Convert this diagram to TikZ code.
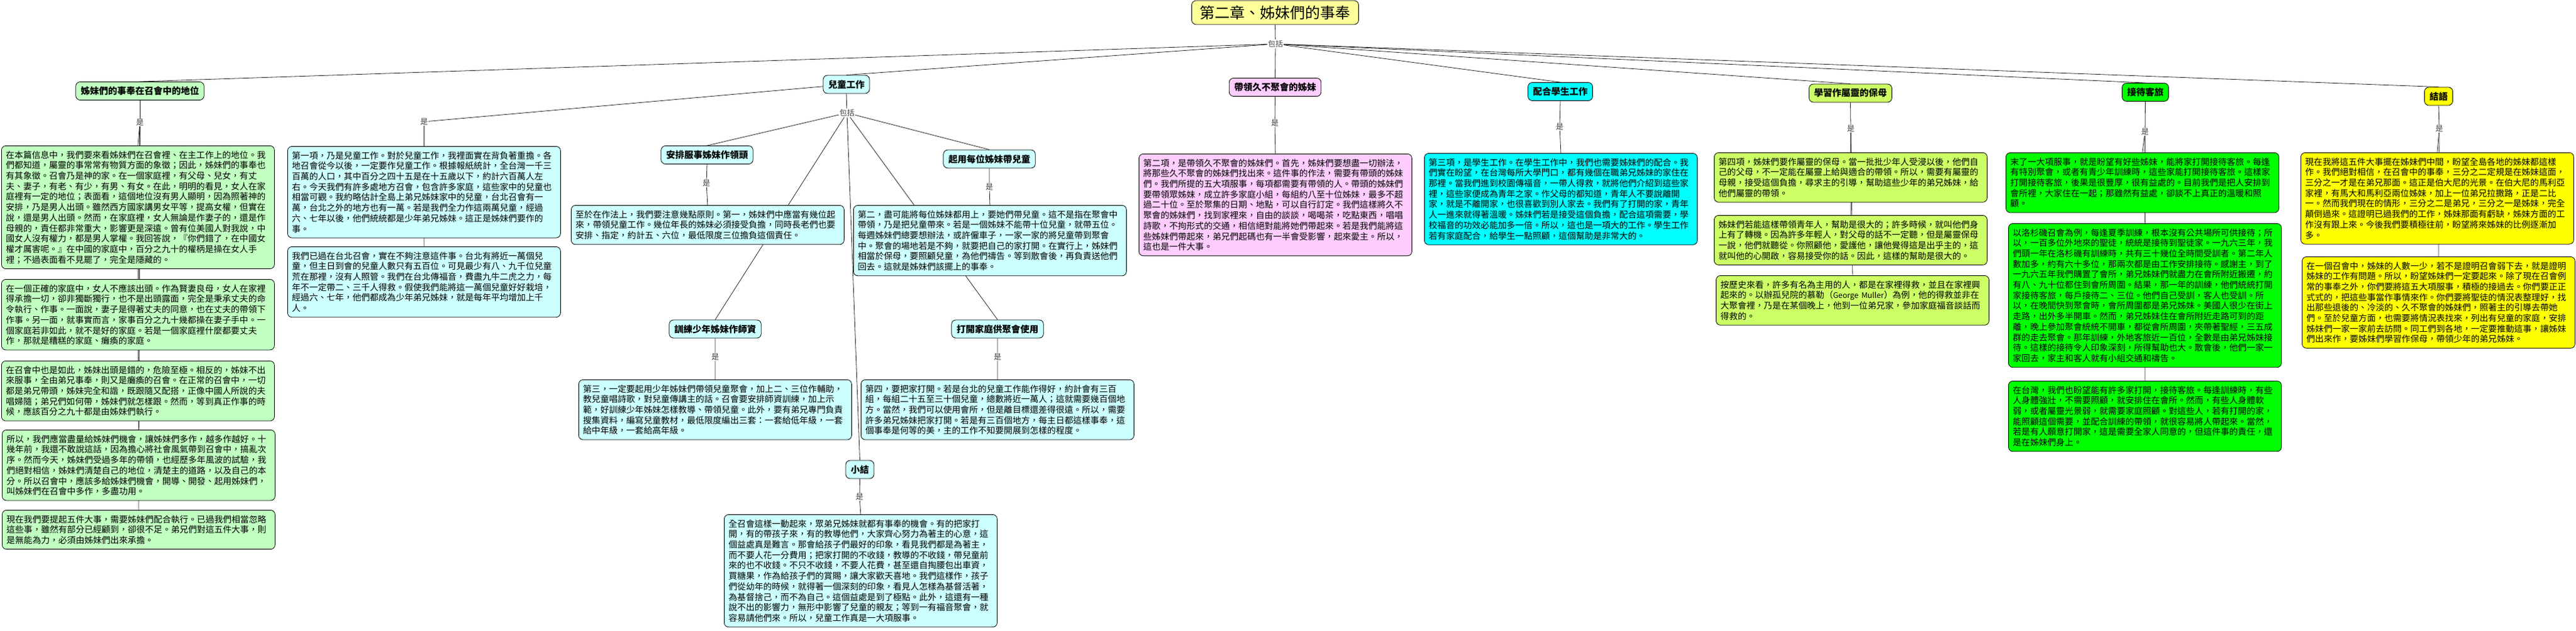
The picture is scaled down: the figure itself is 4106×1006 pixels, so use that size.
\documentclass[tikz,border=0pt]{standalone}
\usepackage{fontspec}
\usepackage{xcolor}
\usepackage{tikz}
\usetikzlibrary{backgrounds}
\newfontfamily\cjk{Noto Sans CJK TC}
\definecolor{rootyellow}{RGB}{255,255,153}
\definecolor{placegreen}{RGB}{192,255,192}
\definecolor{childcyan}{RGB}{204,255,255}
\definecolor{leadpink}{RGB}{255,204,255}
\definecolor{studentcyan}{RGB}{0,255,255}
\definecolor{nursegreen}{RGB}{204,255,102}
\definecolor{hostgreen}{RGB}{0,255,0}
\definecolor{closingyellow}{RGB}{255,255,0}

\begin{document}
\begin{tikzpicture}[x=1pt, y=-1pt,
    concept/.style={draw, rounded corners=7pt, line width=0.8pt, inner xsep=8pt, minimum height=29pt, font=\cjk\bfseries\fontsize{14.5}{17}\selectfont},
    detail/.style={draw, rounded corners=7pt, line width=0.8pt, anchor=north west, text width=421pt, inner xsep=7pt, inner ysep=8pt, align=left, font=\cjk\fontsize{13.8}{16.7}\selectfont},
    linkword/.style={fill=white, inner sep=1pt, text=black!75, font=\cjk\fontsize{12}{14}\selectfont},
    link/.style={draw=black!85, line width=0.8pt}
]
\useasboundingbox (0,0) rectangle (4106,1006);

\node[concept, fill=rootyellow, font=\cjk\fontsize{24}{28}\selectfont, inner xsep=13pt, minimum height=38pt] (root) at (2032.5,20) {第二章、姊妹們的事奉};

\node[concept, fill=placegreen] (place) at (223,145) {姊妹們的事奉在召會中的地位};
\node[concept, fill=childcyan] (child) at (1349,134.5) {兒童工作};
\node[concept, fill=leadpink] (lead) at (2032.5,139) {帶領久不聚會的姊妹};
\node[concept, fill=studentcyan] (student) at (2487,146) {配合學生工作};
\node[concept, fill=nursegreen] (nurse) at (2949.5,148.5) {學習作屬靈的保母};
\node[concept, fill=hostgreen] (host) at (3419.5,147) {接待客旅};
\node[concept, fill=closingyellow] (closing) at (3887,153.5) {結語};

\node[concept, fill=childcyan] (arrange) at (1127,247) {安排服事姊妹作領頭};
\node[concept, fill=childcyan] (train) at (1140,524.5) {訓練少年姊妹作師資};
\node[concept, fill=childcyan] (summary) at (1370.5,748.5) {小結};
\node[concept, fill=childcyan] (bring) at (1577,253.5) {起用每位姊妹帶兒童};
\node[concept, fill=childcyan] (openhome) at (1590,524.5) {打開家庭供聚會使用};

\node[linkword] (rootinc) at (2033,70) {包括};
\node[linkword] (childinc) at (1350,180) {包括};
\node[linkword] (placeis) at (223,195) {是};
\node[linkword] (childis) at (676,194) {是};
\node[linkword] (leadis) at (2032,196) {是};
\node[linkword] (studentis) at (2486,202) {是};
\node[linkword] (nurseis) at (2950,205) {是};
\node[linkword] (hostis) at (3419,210) {是};
\node[linkword] (closingis) at (3888,205) {是};
\node[linkword] (arrangeis) at (1126,292) {是};
\node[linkword] (trainis) at (1140,569) {是};
\node[linkword] (summaryis) at (1370,792) {是};
\node[linkword] (bringis) at (1577,298) {是};
\node[linkword] (openis) at (1590,569) {是};

\node[detail, fill=placegreen] (g1) at (2,232) {在本篇信息中，我們要來看姊妹們在召會裡、在主工作上的地位。我\\們都知道，屬靈的事常常有物質方面的象徵；因此，姊妹們的事奉也\\有其象徵。召會乃是神的家。在一個家庭裡，有父母、兒女，有丈\\夫、妻子，有老、有少，有男、有女。在此，明明的看見，女人在家\\庭裡有一定的地位；表面看，這個地位沒有男人顯明，因為照著神的\\安排，乃是男人出頭。雖然西方國家講男女平等，提高女權，但實在\\說，還是男人出頭。然而，在家庭裡，女人無論是作妻子的，還是作\\母親的，責任都非常重大，影響更是深遠。曾有位美國人對我說，中\\國女人沒有權力，都是男人掌權。我回答說，『你們錯了，在中國女\\權才厲害呢。』在中國的家庭中，百分之九十的權柄是操在女人手\\裡；不過表面看不見罷了，完全是隱藏的。};
\node[detail, fill=placegreen] (g2) at (2,445) {在一個正確的家庭中，女人不應該出頭。作為賢妻良母，女人在家裡\\得承擔一切，卻非獨斷獨行，也不是出頭露面，完全是秉承丈夫的命\\令執行、作事。一面說，妻子是得著丈夫的同意，也在丈夫的帶領下\\作事。另一面，就事實而言，家事百分之九十幾都操在妻子手中。一\\個家庭若非如此，就不是好的家庭。若是一個家庭裡什麼都要丈夫\\作，那就是糟糕的家庭、癱瘓的家庭。};
\node[detail, fill=placegreen] (g3) at (2,575) {在召會中也是如此，姊妹出頭是錯的，危險至極。相反的，姊妹不出\\來服事，全由弟兄事奉，則又是癱瘓的召會。在正常的召會中，一切\\都是弟兄帶頭，姊妹完全和諧，既跟隨又配搭，正像中國人所說的夫\\唱婦隨；弟兄們如何帶，姊妹們就怎樣跟。然而，等到真正作事的時\\候，應該百分之九十都是由姊妹們執行。};
\node[detail, fill=placegreen] (g4) at (3,685) {所以，我們應當盡量給姊妹們機會，讓姊妹們多作，越多作越好。十\\幾年前，我還不敢說這話，因為擔心將社會風氣帶到召會中，搞亂次\\序。然而今天，姊妹們受過多年的帶領，也經歷多年風波的試驗，我\\們絕對相信，姊妹們清楚自己的地位，清楚主的道路，以及自己的本\\分。所以召會中，應該多給姊妹們機會，開導、開發、起用姊妹們，\\叫姊妹們在召會中多作，多盡功用。};
\node[detail, fill=placegreen] (g5) at (3,813) {現在我們要提起五件大事，需要姊妹們配合執行。已過我們相當忽略\\這些事，雖然有部分已經顧到，卻很不足。弟兄們對這五件大事，則\\是無能為力，必須由姊妹們出來承擔。};

\node[detail, fill=childcyan] (c1) at (458,233) {第一項，乃是兒童工作。對於兒童工作，我裡面實在背負著重擔。各\\地召會從今以後，一定要作兒童工作。根據報紙統計，全台灣一千三\\百萬的人口，其中百分之四十五是在十五歲以下，約計六百萬人左\\右。今天我們有許多處地方召會，包含許多家庭，這些家中的兒童也\\相當可觀。我約略估計全島上弟兄姊妹家中的兒童，台北召會有一\\萬，台北之外的地方也有一萬。若是我們全力作這兩萬兒童，經過\\六、七年以後，他們統統都是少年弟兄姊妹。這正是姊妹們要作的\\事。};
\node[detail, fill=childcyan] (c2) at (458,393) {我們已過在台北召會，實在不夠注意這件事。台北有將近一萬個兒\\童，但主日到會的兒童人數只有五百位。可見最少有八、九千位兒童\\荒在那裡，沒有人照管。我們在台北傳福音，費盡九牛二虎之力，每\\年不一定帶二、三千人得救。假使我們能將這一萬個兒童好好栽培，\\經過六、七年，他們都成為少年弟兄姊妹，就是每年平均增加上千\\人。};
\node[detail, fill=childcyan] (a1) at (910,327) {至於在作法上，我們要注意幾點原則。第一，姊妹們中應當有幾位起\\來，帶領兒童工作。幾位年長的姊妹必須接受負擔，同時長老們也要\\安排、指定，約計五、六位，最低限度三位擔負這個責任。};
\node[detail, fill=childcyan] (t1) at (922,605) {第三，一定要起用少年姊妹們帶領兒童聚會，加上二、三位作輔助，\\教兒童唱詩歌，對兒童傳講主的話。召會要安排師資訓練，加上示\\範，好訓練少年姊妹怎樣教導、帶領兒童。此外，要有弟兄專門負責\\搜集資料，編寫兒童教材，最低限度編出三套：一套給低年級，一套\\給中年級，一套給高年級。};
\node[detail, fill=childcyan] (s1) at (1154,820) {全召會這樣一動起來，眾弟兄姊妹就都有事奉的機會。有的把家打\\開，有的帶孩子來，有的教導他們，大家齊心努力為著主的心意，這\\個益處真是難言。那會給孩子們最好的印象，看見我們都是為著主，\\而不要人花一分費用；把家打開的不收錢，教導的不收錢，帶兒童前\\來的也不收錢。不只不收錢，不要人花費，甚至還自掏腰包出車資，\\買糖果，作為給孩子們的賞賜，讓大家歡天喜地。我們這樣作，孩子\\們從幼年的時候，就得著一個深刻的印象，看見人怎樣為基督活著，\\為基督捨己，而不為自己。這個益處是到了極點。此外，這還有一種\\說不出的影響力，無形中影響了兒童的親友；等到一有福音聚會，就\\容易請他們來。所以，兒童工作真是一大項服事。};
\node[detail, fill=childcyan] (q1) at (1360,327) {第二，盡可能將每位姊妹都用上，要她們帶兒童。這不是指在聚會中\\帶領，乃是把兒童帶來。若是一個姊妹不能帶十位兒童，就帶五位。\\每週姊妹們總要想辦法，或許僱車子，一家一家的將兒童帶到聚會\\中。聚會的場地若是不夠，就要把自己的家打開。在實行上，姊妹們\\相當於保母，要照顧兒童，為他們禱告。等到散會後，再負責送他們\\回去。這就是姊妹們該擺上的事奉。};
\node[detail, fill=childcyan] (o1) at (1372,605) {第四，要把家打開。若是台北的兒童工作能作得好，約計會有三百\\組，每組二十五至三十個兒童，總數將近一萬人；這就需要幾百個地\\方。當然，我們可以使用會所，但是離目標還差得很遠。所以，需要\\許多弟兄姊妹把家打開。若是有三百個地方，每主日都這樣事奉，這\\個事奉是何等的美，主的工作不知要開展到怎樣的程度。};

\node[detail, fill=leadpink] (p1) at (1815,245) {第二項，是帶領久不聚會的姊妹們。首先，姊妹們要想盡一切辦法，\\將那些久不聚會的姊妹們找出來。這件事的作法，需要有帶頭的姊妹\\們。我們所提的五大項服事，每項都需要有帶領的人。帶頭的姊妹們\\要帶領眾姊妹，成立許多家庭小組，每組約八至十位姊妹，最多不超\\過二十位。至於聚集的日期、地點，可以自行訂定。我們這樣將久不\\聚會的姊妹們，找到家裡來，自由的談談，喝喝茶，吃點東西，唱唱\\詩歌，不拘形式的交通，相信絕對能將她們帶起來。若是我們能將這\\些姊妹們帶起來，弟兄們起碼也有一半會受影響，起來愛主。所以，\\這也是一件大事。};

\node[detail, fill=studentcyan] (r1) at (2270,244) {第三項，是學生工作。在學生工作中，我們也需要姊妹們的配合。我\\們實在盼望，在台灣每所大學門口，都有幾個在職弟兄姊妹的家住在\\那裡。當我們進到校園傳福音，一帶人得救，就將他們介紹到這些家\\裡，這些家便成為青年之家。作父母的都知道，青年人不要說離開\\家，就是不離開家，也很喜歡到別人家去。我們有了打開的家，青年\\人一進來就得著溫暖。姊妹們若是接受這個負擔，配合這項需要，學\\校福音的功效必能加多一倍。所以，這也是一項大的工作。學生工作\\若有家庭配合，給學生一點照顧，這個幫助是非常大的。};

\node[detail, fill=nursegreen] (m1) at (2732,243) {第四項，姊妹們要作屬靈的保母。當一批批少年人受浸以後，他們自\\己的父母，不一定能在屬靈上給與適合的帶領。所以，需要有屬靈的\\母親，接受這個負擔，尋求主的引導，幫助這些少年的弟兄姊妹，給\\他們屬靈的帶領。};
\node[detail, fill=nursegreen] (m2) at (2732,343) {姊妹們若能這樣帶領青年人，幫助是很大的；許多時候，就叫他們身\\上有了轉機。因為許多年輕人，對父母的話不一定聽，但是屬靈保母\\一說，他們就聽從。你照顧他，愛護他，讓他覺得這是出乎主的，這\\就叫他的心開啟，容易接受你的話。因此，這樣的幫助是很大的。};
\node[detail, fill=nursegreen] (m3) at (2735,439) {按歷史來看，許多有名為主用的人，都是在家裡得救，並且在家裡興\\起來的。以辦孤兒院的慕勒（{\fontsize{12.2}{16.7}\selectfont George~Muller}）為例，他的得救並非在\\大聚會裡，乃是在某個晚上，他到一位弟兄家，參加家庭福音談話而\\得救的。};

\node[detail, fill=hostgreen] (h1) at (3197,243) {末了一大項服事，就是盼望有好些姊妹，能將家打開接待客旅。每逢\\有特別聚會，或者有青少年訓練時，這些家能打開接待客旅。這樣家\\打開接待客旅，後果是很豐厚，很有益處的。目前我們是把人安排到\\會所裡，大家住在一起；那雖然有益處，卻談不上真正的溫暖和照\\顧。};
\node[detail, fill=hostgreen] (h2) at (3201,356) {以洛杉磯召會為例，每逢夏季訓練，根本沒有公共場所可供接待；所\\以，一百多位外地來的聖徒，統統是接待到聖徒家。一九六三年，我\\們頭一年在洛杉磯有訓練時，共有三十幾位全時間受訓者。第二年人\\數加多，約有六十多位，那兩次都是由工作安排接待。感謝主，到了\\一九六五年我們購置了會所，弟兄姊妹們就盡力在會所附近搬遷，約\\有八、九十位都住到會所周圍。結果，那一年的訓練，他們統統打開\\家接待客旅，每戶接待二、三位。他們自己受訓，客人也受訓。所\\以，在晚間快到聚會時，會所周圍都是弟兄姊妹。美國人很少在街上\\走路，出外多半開車。然而，弟兄姊妹住在會所附近走路可到的距\\離，晚上參加聚會統統不開車，都從會所周圍，夾帶著聖經，三五成\\群的走去聚會。那年訓練，外地客旅近一百位，全數是由弟兄姊妹接\\待。這樣的接待令人印象深刻，所得幫助也大。散會後，他們一家一\\家回去，家主和客人就有小組交通和禱告。};
\node[detail, fill=hostgreen] (h3) at (3201,607) {在台灣，我們也盼望能有許多家打開，接待客旅。每逢訓練時，有些\\人身體強壯，不需要照顧，就安排住在會所。然而，有些人身體軟\\弱，或者屬靈光景弱，就需要家庭照顧。對這些人，若有打開的家，\\能照顧這個需要，並配合訓練的帶領，就很容易將人帶起來。當然，\\若是有人願意打開家，這是需要全家人同意的，但這件事的責任，還\\是在姊妹們身上。};

\node[detail, fill=closingyellow] (e1) at (3667,243) {現在我將這五件大事擺在姊妹們中間，盼望全島各地的姊妹都這樣\\作。我們絕對相信，在召會中的事奉，三分之二定規是在姊妹這面，\\三分之一才是在弟兄那面。這正是伯大尼的光景。在伯大尼的馬利亞\\家裡，有馬大和馬利亞兩位姊妹，加上一位弟兄拉撒路，正是二比\\一。然而我們現在的情形，三分之二是弟兄，三分之一是姊妹，完全\\顛倒過來。這證明已過我們的工作，姊妹那面有虧缺，姊妹方面的工\\作沒有跟上來。今後我們要積極往前，盼望將來姊妹的比例逐漸加\\多。};
\node[detail, fill=closingyellow] (e2) at (3669,409) {在一個召會中，姊妹的人數一少，若不是證明召會弱下去，就是證明\\姊妹的工作有問題。所以，盼望姊妹們一定要起來。除了現在召會例\\常的事奉之外，你們要將這五大項服事，積極的接過去。你們要正正\\式式的，把這些事當作事情來作。你們要將聖徒的情況表整理好，找\\出那些退後的、冷淡的、久不聚會的姊妹們，照著主的引導去帶她\\們。至於兒童方面，也需要將情況表找來，列出有兒童的家庭，安排\\姊妹們一家一家前去訪問。同工們到各地，一定要推動這事，讓姊妹\\們出來作，要姊妹們學習作保母，帶領少年的弟兄姊妹。};

\begin{scope}[on background layer]
\draw[link] (root.south) -- (rootinc);
\foreach \t in {place,child,lead,student,nurse,host,closing}
    \draw[link] (rootinc) -- (\t.north);

\draw[link] (place.south) -- (placeis);
\foreach \t in {g1,g2,g3,g4,g5}
    \draw[link] (placeis) -- (\t.north);

\draw[link] (child) -- (childis);
\draw[link] (childis) -- (c1.north);
\draw[link] (childis) -- (c2.north);
\draw[link] (child.south) -- (childinc);
\foreach \t in {arrange,train,summary,bring,openhome}
    \draw[link] (childinc) -- (\t.north);

\draw[link] (arrange.south) -- (arrangeis) -- (a1.north);
\draw[link] (train.south) -- (trainis) -- (t1.north);
\draw[link] (summary.south) -- (summaryis) -- (s1.north);
\draw[link] (bring.south) -- (bringis) -- (q1.north);
\draw[link] (openhome.south) -- (openis) -- (o1.north);

\draw[link] (lead.south) -- (leadis) -- (p1.north);
\draw[link] (student.south) -- (studentis) -- (r1.north);

\draw[link] (nurse.south) -- (nurseis);
\foreach \t in {m1,m2,m3}
    \draw[link] (nurseis) -- (\t.north);

\draw[link] (host.south) -- (hostis);
\foreach \t in {h1,h2,h3}
    \draw[link] (hostis) -- (\t.north);

\draw[link] (closing.south) -- (closingis);
\draw[link] (closingis) -- (e1.north);
\draw[link] (closingis) -- (e2.north);
\end{scope}

\end{tikzpicture}
\end{document}
